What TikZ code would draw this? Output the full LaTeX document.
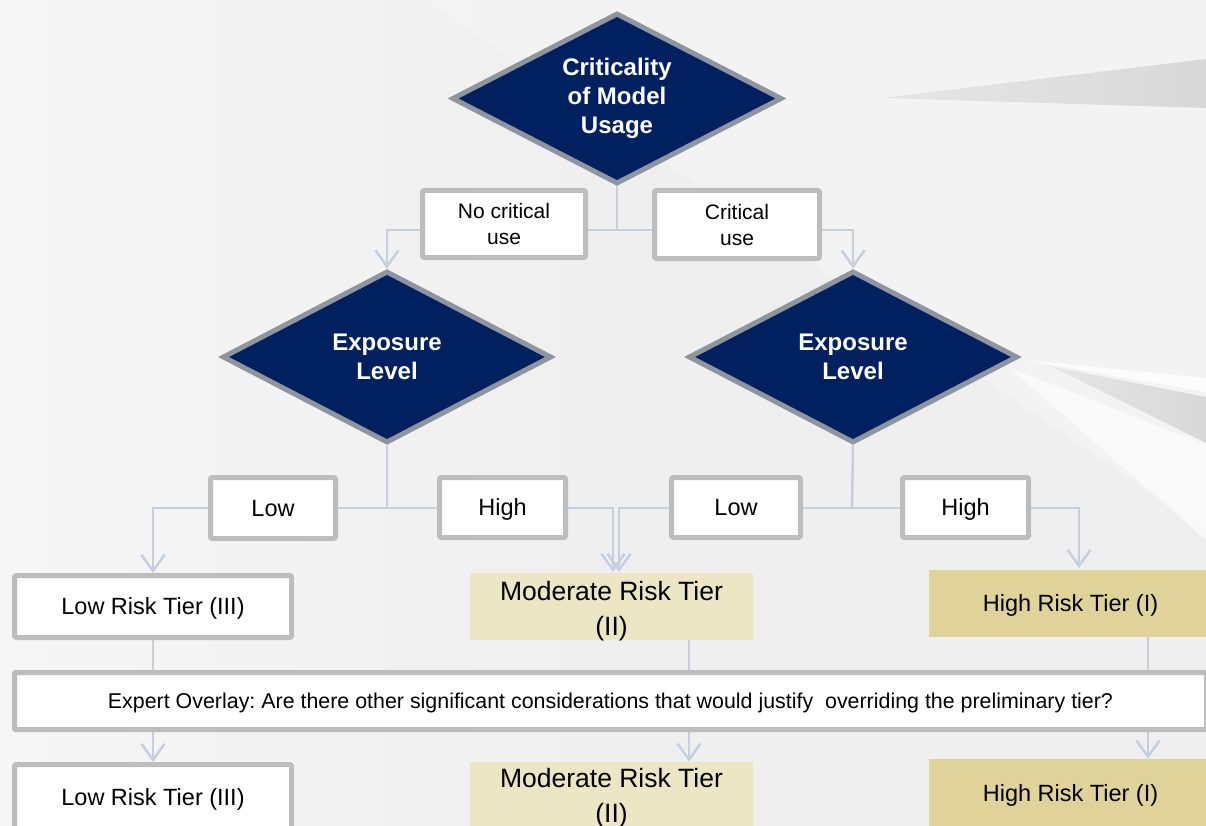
\documentclass[tikz,border=0pt]{standalone}
\usepackage{fontspec}
\setmainfont{Liberation Sans}
\usetikzlibrary{shapes.geometric,arrows.meta}
\pgfdeclarelayer{back}
\pgfdeclarelayer{wires}
\pgfsetlayers{back,wires,main}
\definecolor{navy}{HTML}{002060}
\definecolor{decedge}{HTML}{8E959E}
\definecolor{boxedge}{HTML}{BDBDBD}
\definecolor{wire}{HTML}{C6CFDE}
\definecolor{modfill}{HTML}{EDE6C4}
\definecolor{highfill}{HTML}{DFD39A}
\definecolor{bgbase}{HTML}{EFEFEF}
\definecolor{bglight}{HTML}{F6F6F6}
\definecolor{shard}{HTML}{D8D8D8}
\tikzset{
  decision/.style={diamond, minimum width=329pt, minimum height=172pt, inner sep=0pt,
    fill=navy, draw=decedge, line width=5pt},
  dectext/.style={text=white, align=center, inner sep=0pt,
    font=\bfseries\fontsize{24}{29}\selectfont},
  labelbox/.style={draw=boxedge, line width=5pt, fill=white, rounded corners=2pt,
    inner sep=0pt, align=center, font=\fontsize{21}{26}\selectfont},
  oneline/.style={text height=16.8pt, text depth=0pt},
  branch/.style={labelbox, oneline, font=\fontsize{23.5}{28}\selectfont},
  tierbox/.style={inner sep=0pt, align=center, font=\fontsize{23.5}{28}\selectfont},
  modbox/.style={tierbox, fill=modfill},
  modtext/.style={inner sep=0pt, align=center, font=\fontsize{26.5}{35}\selectfont},
  highbox/.style={tierbox, oneline, fill=highfill},
  conn/.style={draw=wire, line width=2.5pt},
  arr/.style={conn, -{Straight Barb[length=16pt,width=23pt]}},
}
\begin{document}
\frenchspacing
\begin{tikzpicture}[x=1pt,y=-1pt]
\useasboundingbox (0,0) rectangle (1206,826);

% backdrop with light wedges and grey shards
\begin{pgfonlayer}{back}
  \fill[bgbase] (0,0) rectangle (1206,826);
  \shade[left color=bglight, right color=bgbase] (0,0) rectangle (600,826);
  \fill[white,opacity=0.25] (426,0) -- (1206,0) -- (1206,530) -- cycle;
  \fill[white,opacity=0.6] (1010,368) -- (1206,445) -- (1206,540) -- cycle;
  \fill[white,opacity=0.8] (1025,360) -- (1206,378) -- (1206,392) -- cycle;
  \shade[left color=shard!40!bgbase, right color=shard] (882,98) -- (1206,59) -- (1206,108) -- cycle;
  \shade[left color=shard!40!bgbase, right color=shard] (1053,367) -- (1206,397) -- (1206,443) -- cycle;
\end{pgfonlayer}

% decisions
\node[decision, minimum width=330pt, minimum height=171pt,
  label={[dectext]center:Criticality\\of Model\\Usage}] (crit) at (617,98.5) {};
\node[decision, label={[dectext]center:Exposure\\Level}] (expL) at (387,357) {};
\node[decision, label={[dectext]center:Exposure\\Level}] (expR) at (853,357) {};

% branch labels
\node[labelbox, minimum width=163pt, minimum height=67pt] (ncu) at (504,224) {No critical\\use};
\node[labelbox, minimum width=165pt, minimum height=68pt] (cu) at (737,224.5) {Critical\\use};
\node[branch, minimum width=125pt, minimum height=61pt] (lowL) at (273,508) {Low};
\node[branch, minimum width=126pt, minimum height=60pt] (highL) at (502.5,507.5) {High};
\node[branch, minimum width=129pt, minimum height=60pt] (lowR) at (736,507.5) {Low};
\node[branch, minimum width=126pt, minimum height=60pt] (highR) at (965.5,507.5) {High};

% preliminary tiers
\node[branch, minimum width=277pt, minimum height=62pt] (lowT) at (153,606.5) {Low Risk Tier (III)};
\node[modbox, minimum width=283pt, minimum height=67pt,
  label={[modtext, yshift=-5pt]center:Moderate Risk Tier\\(II)}] (modT) at (611.5,606.5) {};
\node[highbox, minimum width=283pt, minimum height=67pt] (highT) at (1070.5,603) {High Risk Tier (I)};

% expert overlay
\node[labelbox, text height=15.3pt, text depth=0pt, rounded corners=1pt,
  font=\fontsize{21.4}{25}\selectfont,
  minimum width=1192pt, minimum height=57pt] (ov) at (610.5,701)
  {Expert Overlay: Are there other significant considerations that would justify\ \ overriding the preliminary tier?};

% final tiers
\node[branch, minimum width=277pt, minimum height=65pt] (lowF) at (153,797) {Low Risk Tier (III)};
\node[modbox, minimum width=283pt, minimum height=68pt,
  label={[modtext, yshift=-2.5pt]center:Moderate Risk Tier\\(II)}] (modF) at (611.5,796) {};
\node[highbox, minimum width=283pt, minimum height=68pt] (highF) at (1070.5,793) {High Risk Tier (I)};

% junctions and drop points
\coordinate (j1) at (617,230);
\coordinate (j2) at (387,508);
\coordinate (j3) at (852,508);
\coordinate (mA) at (613,572);
\coordinate (mB) at (619,572);
\coordinate (hA) at (1079,568);
\coordinate (mx) at (689,0);
\coordinate (hx) at (1148,0);

\begin{pgfonlayer}{wires}
  \draw[conn] (crit.south) -- (j1);
  \draw[arr] (j1) -| (expL.north);
  \draw[arr] (j1) -| (expR.north);
  \draw[conn] (expL.south) -- (j2);
  \draw[conn] (expR.south) -- (j3);
  \draw[arr] (j2) -| (lowT.north);
  \draw[arr] (j2) -| (mA);
  \draw[arr] (j3) -| (mB);
  \draw[arr] (j3) -| (hA);
  \draw[conn] (lowT.south) -- (lowT.south |- ov.north);
  \draw[conn] (modT.south -| mx) -- (ov.north -| mx);
  \draw[conn] (highT.south -| hx) -- (ov.north -| hx);
  \draw[arr] (ov.south -| lowF.north) -- (lowF.north);
  \draw[arr] (ov.south -| mx) -- (modF.north -| mx);
  \draw[arr] (ov.south -| hx) -- (highF.north -| hx);
\end{pgfonlayer}
\end{tikzpicture}
\end{document}
